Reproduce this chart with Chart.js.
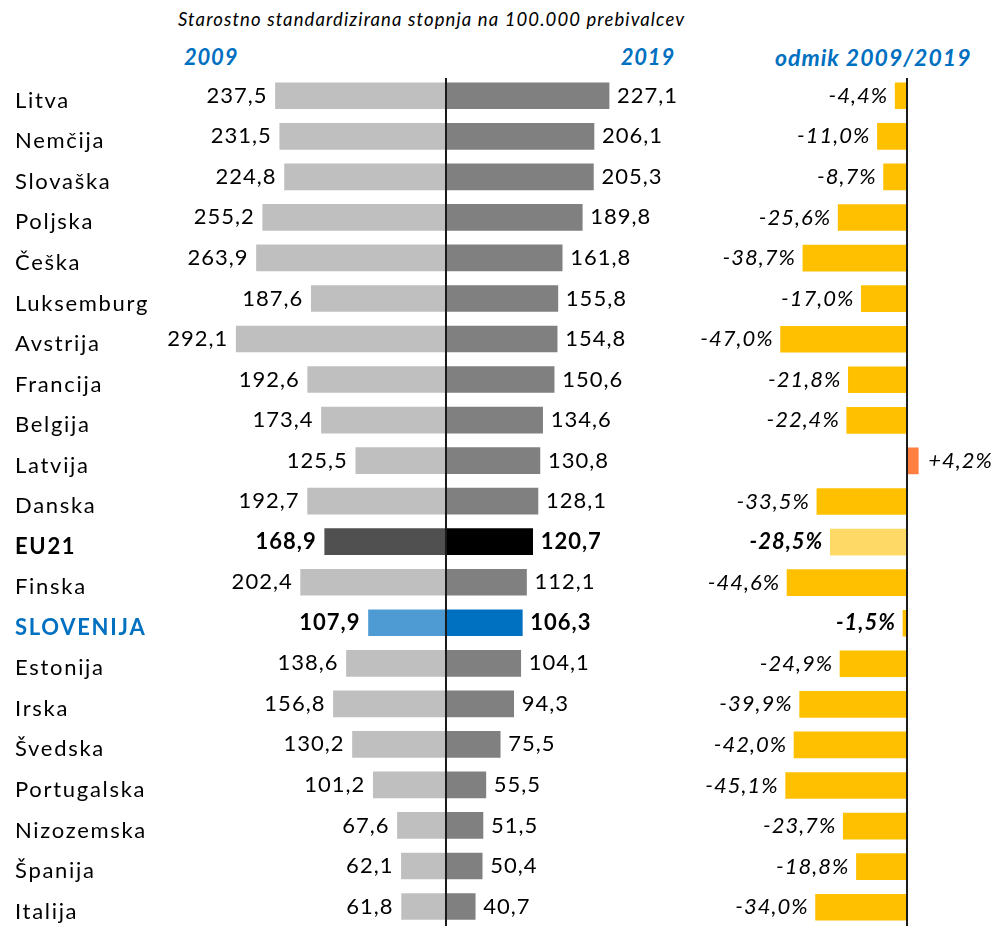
<!DOCTYPE html>
<html>
<head>
<meta charset="utf-8">
<script src="https://cdn.jsdelivr.net/npm/chart.js@4.4.1/dist/chart.umd.min.js"></script>
<style>
  html, body { margin: 0; padding: 0; background: #fff; width: 998px; height: 926px; overflow: hidden; }
  #wrap { position: relative; width: 998px; height: 926px; }
  canvas { position: absolute; top: 0; }
  .hdr { position: absolute; font-family: Lato, sans-serif; white-space: nowrap; }
  #title { left: 178px; top: 9px; font-size: 18.5px; font-style: italic; letter-spacing: 1.1px; color: #000; line-height: 20px; }
  .yr { top: 45px; font-size: 22px; font-weight: bold; font-style: italic; color: #0070C0; line-height: 24px; letter-spacing: 0.8px; }
</style>
</head>
<body>
<div id="wrap">
  <div id="title" class="hdr">Starostno standardizirana stopnja na 100.000 prebivalcev</div>
  <div class="hdr yr" style="left:184px">2009</div>
  <div class="hdr yr" style="right:323px">2019</div>
  <div class="hdr yr" style="left:775px; font-size:23px; letter-spacing:1px">odmik 2009/2019</div>
  <canvas id="c1" width="690" height="940" style="left:0"></canvas>
  <canvas id="c2" width="308" height="940" style="left:690px"></canvas>
</div>
<script>
const categories = ["Litva","Nemčija","Slovaška","Poljska","Češka","Luksemburg","Avstrija","Francija","Belgija","Latvija","Danska","EU21","Finska","SLOVENIJA","Estonija","Irska","Švedska","Portugalska","Nizozemska","Španija","Italija"];
const values2009 = [237.5,231.5,224.8,255.2,263.9,187.6,292.1,192.6,173.4,125.5,192.7,168.9,202.4,107.9,138.6,156.8,130.2,101.2,67.6,62.1,61.8];
const values2019 = [227.1,206.1,205.3,189.8,161.8,155.8,154.8,150.6,134.6,130.8,128.1,120.7,112.1,106.3,104.1,94.3,75.5,55.5,51.5,50.4,40.7];
const change = [-4.4,-11.0,-8.7,-25.6,-38.7,-17.0,-47.0,-21.8,-22.4,4.2,-33.5,-28.5,-44.6,-1.5,-24.9,-39.9,-42.0,-45.1,-23.7,-18.8,-34.0];

const FONT = 'Lato';
const isEU = i => categories[i] === 'EU21';
const isSI = i => categories[i] === 'SLOVENIJA';
const fmt = v => Math.abs(v).toFixed(1).replace('.', ',');
const fmtPct = v => (v > 0 ? '+' : '-') + Math.abs(v).toFixed(1).replace('.', ',') + '%';

const col2009 = categories.map((c, i) => isEU(i) ? '#505050' : isSI(i) ? '#4E9BD3' : '#BFBFBF');
const col2019 = categories.map((c, i) => isEU(i) ? '#000000' : isSI(i) ? '#0070C0' : '#808080');
const colChg = categories.map((c, i) => isEU(i) ? '#FFD966' : change[i] > 0 ? '#FF7F41' : '#FFC000');

const spacingPlugin = {
  id: 'spacing',
  beforeDraw(chart, args, opts) { chart.ctx.letterSpacing = (opts.px || 1) + 'px'; }
};

const axisLine = {
  id: 'axisLine',
  afterDatasetsDraw(chart) {
    const ctx = chart.ctx;
    const x = chart.scales.x.getPixelForValue(0);
    ctx.save();
    ctx.strokeStyle = '#1a1a1a';
    ctx.lineWidth = 2;
    ctx.beginPath();
    ctx.moveTo(x, 78);
    ctx.lineTo(x, chart.height);
    ctx.stroke();
    ctx.restore();
  }
};

const valueLabels = {
  id: 'valueLabels',
  afterDraw(chart) {
    const ctx = chart.ctx;
    ctx.save();
    ctx.letterSpacing = '1px';
    ctx.textBaseline = 'middle';
    chart.data.datasets.forEach((ds, di) => {
      const meta = chart.getDatasetMeta(di);
      meta.data.forEach((bar, i) => {
        const v = ds.data[i];
        const bold = isEU(i) || isSI(i);
        ctx.font = (bold ? 'bold ' : '') + '22px ' + FONT;
        ctx.fillStyle = '#000';
        if (v < 0) {
          ctx.textAlign = 'right';
          ctx.fillText(fmt(v), bar.x - 8, bar.y);
        } else {
          ctx.textAlign = 'left';
          ctx.fillText(fmt(v), bar.x + 8, bar.y);
        }
      });
    });
    ctx.restore();
  }
};

const pctLabels = {
  id: 'pctLabels',
  afterDraw(chart) {
    const ctx = chart.ctx;
    ctx.save();
    ctx.letterSpacing = '1px';
    ctx.textBaseline = 'middle';
    const meta = chart.getDatasetMeta(0);
    meta.data.forEach((bar, i) => {
      const v = chart.data.datasets[0].data[i];
      const bold = isEU(i) || isSI(i);
      ctx.font = (bold ? 'bold ' : '') + 'italic 22px ' + FONT;
      ctx.fillStyle = '#000';
      if (v < 0) {
        ctx.textAlign = 'right';
        ctx.fillText(fmtPct(v), bar.x - 7, bar.y);
      } else {
        ctx.textAlign = 'left';
        ctx.fillText(fmtPct(v), bar.x + 10, bar.y);
      }
    });
    ctx.restore();
  }
};

new Chart(document.getElementById('c1'), {
  type: 'bar',
  data: {
    labels: categories,
    datasets: [
      { label: '2009', data: values2009.map(v => -v), backgroundColor: col2009, barThickness: 26, stack: 's' },
      { label: '2019', data: values2019, backgroundColor: col2019, barThickness: 26, stack: 's' }
    ]
  },
  options: {
    indexAxis: 'y',
    responsive: false,
    devicePixelRatio: 1,
    animation: false,
    layout: { padding: { left: 15, right: 10, top: 75.5, bottom: 12.5 } },
    plugins: { legend: { display: false }, tooltip: { enabled: false }, spacing: { px: 1.7 } },
    scales: {
      x: { stacked: true, display: false, min: -356.5, max: 325.9 },
      y: {
        stacked: true,
        grid: { display: false },
        border: { display: false },
        afterFit(scale) { scale.width = 175; },
        ticks: {
          crossAlign: 'far',
          padding: 0,
          labelOffset: 5,
          color: ctx => isSI(ctx.index) ? '#0070C0' : '#000',
          font: ctx => ({ family: FONT, size: 22, weight: (isEU(ctx.index) || isSI(ctx.index)) ? 'bold' : 'normal' })
        }
      }
    }
  },
  plugins: [spacingPlugin, axisLine, valueLabels]
});

new Chart(document.getElementById('c2'), {
  type: 'bar',
  data: {
    labels: categories,
    datasets: [
      { label: 'odmik 2009/2019', data: change, backgroundColor: colChg, barThickness: 26 }
    ]
  },
  options: {
    indexAxis: 'y',
    responsive: false,
    devicePixelRatio: 1,
    animation: false,
    layout: { padding: { left: 0, right: 0, top: 75.5, bottom: 12.5 } },
    plugins: { legend: { display: false }, tooltip: { enabled: false }, spacing: { px: 1 } },
    scales: {
      x: { display: false, min: -80.67, max: 33.83 },
      y: { display: false }
    }
  },
  plugins: [spacingPlugin, axisLine, pctLabels]
});
</script>
</body>
</html>
